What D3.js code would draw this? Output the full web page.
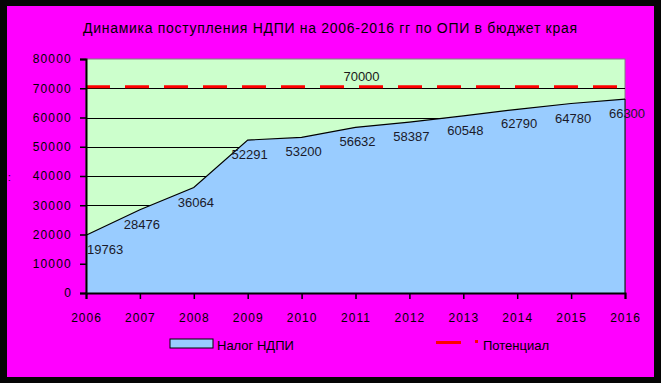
<!DOCTYPE html>
<html><head><meta charset="utf-8">
<script src="https://cdn.jsdelivr.net/npm/d3@7/dist/d3.min.js"></script>
<style>
html,body{margin:0;padding:0;background:#000;}
svg{display:block;}
text{font-family:"Liberation Sans",Arial,sans-serif;}
</style></head>
<body>
<svg id="chart" width="661" height="383"></svg>
<script>
const title = "Динамика поступления НДПИ на 2006-2016 гг по ОПИ в бюджет края";
const years = ["2006","2007","2008","2009","2010","2011","2012","2013","2014","2015","2016"];
const taxValues = [19763, 28476, 36064, 52291, 53200, 56632, 58387, 60548, 62790, 64780, 66300];
const potentialValues = [70000, 70000, 70000, 70000, 70000, 70000, 70000, 70000, 70000, 70000, 70000];
const potentialLabel = 70000;
const yTicks = [0, 10000, 20000, 30000, 40000, 50000, 60000, 70000, 80000];
const seriesNames = ["Налог НДПИ", "Потенциал"];

const svg = d3.select("#chart");
svg.append("rect").attr("x",0).attr("y",0).attr("width",661).attr("height",383).attr("fill","#050505");
svg.append("rect").attr("x",7).attr("y",6).attr("width",647).attr("height",371).attr("fill","#FF00FF");

const L = 86, R = 625, T = 59, B = 293;
const x = d3.scalePoint().domain(years).range([L, R]);
const y = d3.scaleLinear().domain([0, 80000]).range([B, T]);

// plot background
svg.append("rect").attr("x",L).attr("y",T).attr("width",R-L).attr("height",B-T)
  .attr("fill","#CCFFCC").attr("stroke","#808080").attr("stroke-width",1);

// gridlines
svg.append("g").selectAll("line").data(yTicks.filter(d=>d>0 && d<80000)).join("line")
  .attr("x1",L).attr("x2",R).attr("y1",d=>Math.round(y(d))+0.5).attr("y2",d=>Math.round(y(d))+0.5)
  .attr("stroke","#000").attr("stroke-width",1);

// area
const area = d3.area().x((d,i)=>x(years[i])).y0(B).y1(d=>y(d));
const line = d3.line().x((d,i)=>x(years[i])).y(d=>y(d));
svg.append("path").datum(taxValues).attr("d",area).attr("fill","#99CCFF");
svg.append("path").datum(taxValues).attr("d",line).attr("fill","none").attr("stroke","#000").attr("stroke-width",1.2);
svg.append("line").attr("x1",R).attr("x2",R).attr("y1",y(taxValues[taxValues.length-1])).attr("y2",B)
  .attr("stroke","#000").attr("stroke-width",1);

// potential dashed line
svg.append("path").datum(potentialValues)
  .attr("d", d3.line().x((d,i)=>x(years[i])).y(d=>y(d)-1.5))
  .attr("fill","none").attr("stroke","#FF0000").attr("stroke-width",3)
  .attr("stroke-dasharray","24,15");

// axes
const yAxis = d3.axisLeft(y).tickValues(yTicks).tickSize(6).tickPadding(8).tickFormat(d3.format("d"));
const gy = svg.append("g").attr("transform",`translate(${L},0)`).call(yAxis);
gy.select(".domain").attr("stroke","#000").attr("stroke-width",2);
gy.selectAll(".tick line").attr("stroke","#000").attr("stroke-width",1.5);
gy.selectAll(".tick text").attr("font-size",12).attr("fill","#000").attr("letter-spacing",1.2)
  .attr("font-family","'Liberation Sans',Arial,sans-serif");

const xAxis = d3.axisBottom(x).tickSize(6).tickPadding(14);
const gx = svg.append("g").attr("transform",`translate(0,${B})`).call(xAxis);
gx.select(".domain").attr("stroke","#000").attr("stroke-width",2);
gx.selectAll(".tick line").attr("stroke","#000").attr("stroke-width",1.5);
gx.selectAll(".tick text").attr("font-size",12).attr("fill","#000").attr("letter-spacing",1)
  .attr("font-family","'Liberation Sans',Arial,sans-serif");

// data labels (kept inside the plot area)
const labels = svg.append("g").selectAll("text").data(taxValues).join("text")
  .attr("y",d=>y(d)+19)
  .attr("text-anchor","middle").attr("font-size",13).attr("fill","#1a1a2a")
  .text(d=>d);
labels.each(function(d,i){
  const w = this.getComputedTextLength();
  const cx = Math.max(x(years[i]) + 2, L + w/2 + 1);
  d3.select(this).attr("x", cx);
});

svg.append("text").attr("x",x("2011")+6).attr("y",y(potentialLabel)-7)
  .attr("text-anchor","middle").attr("font-size",13).attr("fill","#1a1a1a").text(potentialLabel);

// title
svg.append("text").attr("x",330).attr("y",33).attr("text-anchor","middle")
  .attr("font-size",14).attr("fill","#000").attr("textLength",494).attr("lengthAdjust","spacing")
  .text(title);

// y axis title remnant
svg.append("text").attr("x",8).attr("y",181).attr("font-size",10).attr("fill","#000").text(":");

// legend
svg.append("rect").attr("x",170).attr("y",339).attr("width",43).attr("height",9)
  .attr("fill","#99CCFF").attr("stroke","#000").attr("stroke-width",1);
svg.append("text").attr("x",217).attr("y",350).attr("font-size",13).attr("fill","#000").text(seriesNames[0]);
svg.append("line").attr("x1",436).attr("x2",461).attr("y1",342.5).attr("y2",342.5)
  .attr("stroke","#FF0000").attr("stroke-width",3);
svg.append("rect").attr("x",475).attr("y",340).attr("width",3).attr("height",3).attr("fill","#FF0000");
svg.append("text").attr("x",483).attr("y",350).attr("font-size",13).attr("fill","#000").text(seriesNames[1]);
</script>
</body></html>
